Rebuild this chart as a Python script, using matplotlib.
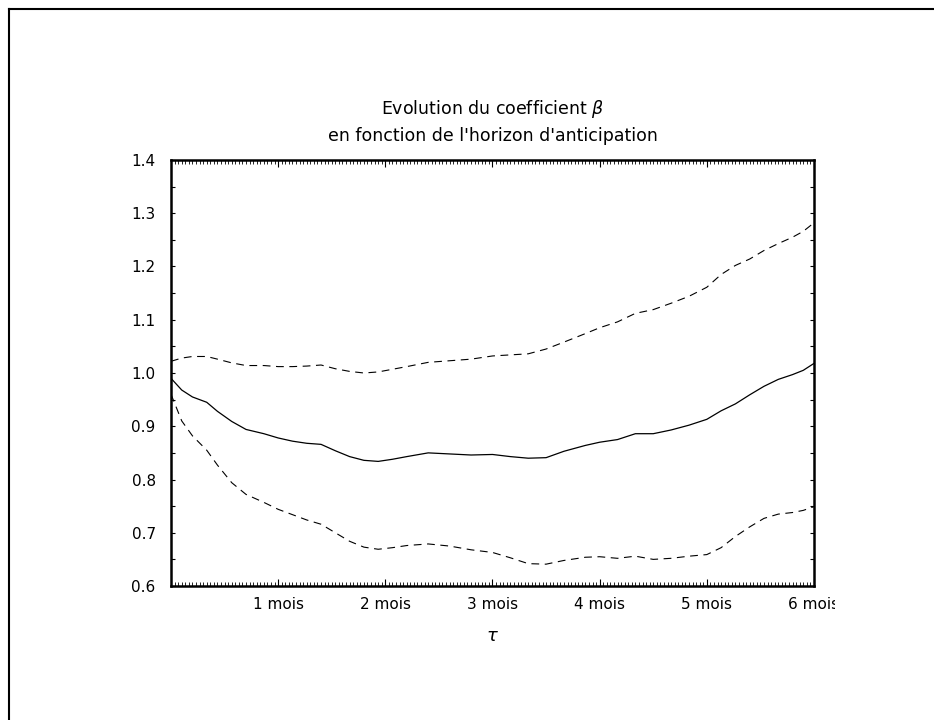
#!/usr/bin/env python3
# Evolution du coefficient beta en fonction de l'horizon d'anticipation

import matplotlib
matplotlib.use("Agg")
import matplotlib.pyplot as plt
from matplotlib.lines import Line2D
from matplotlib.ticker import MultipleLocator
from matplotlib.transforms import Bbox, TransformedBbox

#------------------------------------------------------------------------------
# Data (horizon in days)
#------------------------------------------------------------------------------

days = [0, 3, 6, 10, 13, 17, 21, 26, 30, 34, 38, 42, 46, 50, 54, 58, 62, 66,
        72, 78, 84, 90, 95, 100, 105, 110, 116, 120, 125, 130, 135, 140, 145,
        150, 154, 158, 162, 166, 170, 174, 177, 180]

beta = [0.990, 0.968, 0.955, 0.945, 0.928, 0.909, 0.894, 0.886, 0.878, 0.872,
        0.868, 0.866, 0.854, 0.843, 0.836, 0.834, 0.838, 0.843, 0.850, 0.848,
        0.846, 0.847, 0.843, 0.840, 0.841, 0.853, 0.864, 0.870, 0.875, 0.886,
        0.886, 0.893, 0.902, 0.913, 0.929, 0.942, 0.959, 0.975, 0.988, 0.997,
        1.005, 1.018]

upper = [1.022, 1.028, 1.031, 1.031, 1.026, 1.019, 1.014, 1.014, 1.012, 1.012,
         1.013, 1.015, 1.008, 1.003, 1.000, 1.002, 1.007, 1.012, 1.020, 1.023,
         1.026, 1.032, 1.034, 1.036, 1.045, 1.058, 1.074, 1.085, 1.096, 1.112,
         1.119, 1.131, 1.144, 1.161, 1.185, 1.202, 1.214, 1.230, 1.243, 1.255,
         1.266, 1.282]

lower = [0.960, 0.910, 0.882, 0.855, 0.827, 0.794, 0.772, 0.757, 0.744, 0.734,
         0.724, 0.716, 0.700, 0.684, 0.673, 0.669, 0.672, 0.676, 0.679, 0.675,
         0.668, 0.663, 0.653, 0.642, 0.641, 0.648, 0.654, 0.655, 0.652, 0.656,
         0.650, 0.652, 0.656, 0.659, 0.672, 0.693, 0.711, 0.727, 0.735, 0.738,
         0.742, 0.749]

month_ticks = [30, 60, 90, 120, 150, 180]
month_labels = ["1 mois", "2 mois", "3 mois", "4 mois", "5 mois", "6 mois"]

#------------------------------------------------------------------------------
# Plot
#------------------------------------------------------------------------------

plt.rcParams["font.family"] = ["DejaVu Sans"]

fig = plt.figure(figsize=(9.34, 7.2), dpi=100)
ax = fig.add_axes([0.1831, 0.1861, 0.6884, 0.5917])

dash = (0, (7, 5))
ax.plot(days, beta, color="black", lw=0.9)
ax.plot(days, upper, color="black", lw=0.8, linestyle=dash)
ax.plot(days, lower, color="black", lw=0.8, linestyle=dash)

ax.set_xlim(0, 180)
ax.set_ylim(0.6, 1.4)

ax.set_xticks(month_ticks)
ax.set_xticklabels(month_labels, fontsize=11)
ax.xaxis.set_minor_locator(MultipleLocator(1))

ax.yaxis.set_major_locator(MultipleLocator(0.1))
ax.yaxis.set_minor_locator(MultipleLocator(0.05))
ax.set_yticklabels([f"{v:.1f}" for v in ax.get_yticks()], fontsize=11)

ax.tick_params(which="both", direction="in", top=True, right=True,
               width=0.8, colors="black")
ax.tick_params(axis="x", which="major", length=5, pad=8)
ax.tick_params(axis="x", which="minor", length=3, width=0.6)
ax.tick_params(axis="y", which="both", length=3, pad=11)

for s in ax.spines.values():
    s.set_linewidth(1.8)

ax.set_xlabel(r"$\tau$", fontsize=13, labelpad=11)
ax.set_title("Evolution du coefficient " + r"$\beta$" + "\n"
             "en fonction de l'horizon d'anticipation",
             fontsize=12.5, pad=14, linespacing=1.45)

# the last month label is cut off in the original page
clip = TransformedBbox(Bbox([[0, 0], [835 / 934, 1]]), fig.transFigure)
for lab in ax.get_xticklabels():
    lab.set_clip_on(True)
    lab.set_clip_box(clip)

# page frame (left and top edges only)
x0, y0 = 9 / 934, 1 - 9 / 720
fig.add_artist(Line2D([x0, x0], [0, y0], transform=fig.transFigure,
                      color="black", lw=1.5))
fig.add_artist(Line2D([x0, 1], [y0, y0], transform=fig.transFigure,
                      color="black", lw=1.5))

fig.savefig("out.png", dpi=100)
